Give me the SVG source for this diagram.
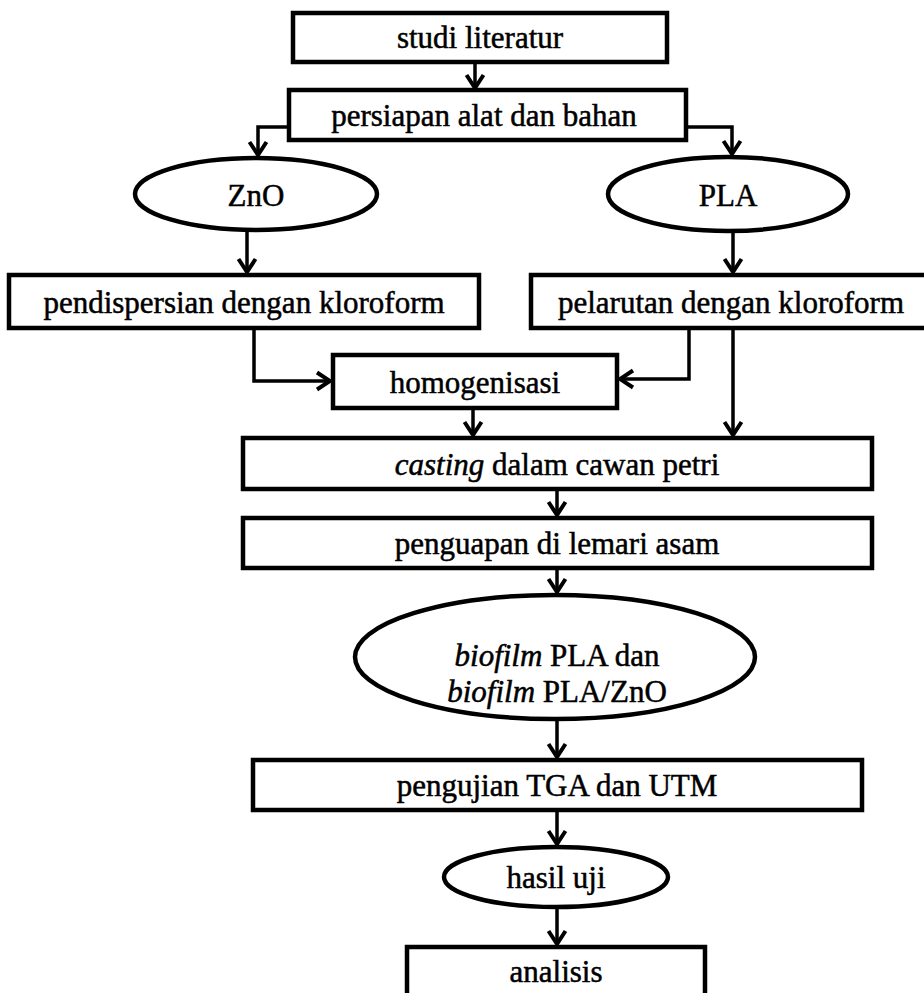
<svg xmlns="http://www.w3.org/2000/svg" width="924" height="993" viewBox="0 0 924 993">
<style>
.box{fill:#fff;stroke:#000;stroke-width:4.5}
.ell{fill:#fff;stroke:#000;stroke-width:4.5}
.lbl{font-family:"Liberation Serif","Times New Roman",serif;font-size:31px;fill:#000;stroke:#000;stroke-width:0.5;text-anchor:middle}
.it{font-style:italic}
.con{fill:none;stroke:#000;stroke-width:3.5;marker-end:url(#arr)}
</style>
<defs>
<marker id="arr" viewBox="-16 -11 18 22" markerWidth="18" markerHeight="22" refX="0" refY="0" orient="auto" markerUnits="userSpaceOnUse">
<path d="M-13,-8.5 L0,0 L-13,8.5" fill="none" stroke="#000" stroke-width="4"/>
</marker>
</defs>
<rect width="924" height="993" fill="#fff"/>
<g id="connectors">
<path class="con" d="M475,62 V88"/>
<path class="con" d="M289,127 H258 V155"/>
<path class="con" d="M686,127 H732 V154"/>
<path class="con" d="M247,230 V272"/>
<path class="con" d="M733,231 V272"/>
<path class="con" d="M254,328 V381 H330"/>
<path class="con" d="M689,328 V379 H620"/>
<path class="con" d="M733,328 V435"/>
<path class="con" d="M473,408 V435"/>
<path class="con" d="M557,489 V515"/>
<path class="con" d="M557,568 V592"/>
<path class="con" d="M557,719 V757"/>
<path class="con" d="M557,810 V844"/>
<path class="con" d="M557,907 V944"/>
</g>
<g id="studi">
<rect class="box" x="293" y="13" width="374" height="49"/>
<text class="lbl" x="480" y="48">studi literatur</text>
</g>
<g id="persiapan">
<rect class="box" x="289" y="90" width="397" height="50"/>
<text class="lbl" x="484" y="126">persiapan alat dan bahan</text>
</g>
<g id="zno">
<ellipse class="ell" cx="256" cy="194" rx="121" ry="36"/>
<text class="lbl" x="256" y="206">ZnO</text>
</g>
<g id="pla">
<ellipse class="ell" cx="728" cy="194" rx="120" ry="37"/>
<text class="lbl" x="728" y="206">PLA</text>
</g>
<g id="pendispersian">
<rect class="box" x="9" y="275" width="470" height="53"/>
<text class="lbl" x="244" y="313">pendispersian dengan kloroform</text>
</g>
<g id="pelarutan">
<rect class="box" x="531" y="275" width="396" height="53"/>
<text class="lbl" x="731" y="313">pelarutan dengan kloroform</text>
</g>
<g id="homogenisasi">
<rect class="box" x="333" y="355" width="284" height="53"/>
<text class="lbl" x="475" y="393">homogenisasi</text>
</g>
<g id="casting">
<rect class="box" x="243" y="438" width="629" height="51"/>
<text class="lbl" x="557" y="475"><tspan class="it">casting</tspan> dalam cawan petri</text>
</g>
<g id="penguapan">
<rect class="box" x="243" y="518" width="629" height="50"/>
<text class="lbl" x="557" y="554">penguapan di lemari asam</text>
</g>
<g id="biofilm">
<ellipse class="ell" cx="555" cy="657" rx="200" ry="62"/>
<text class="lbl" x="557" y="666"><tspan class="it">biofilm</tspan> PLA dan</text>
<text class="lbl" x="557" y="702"><tspan class="it">biofilm</tspan> PLA/ZnO</text>
</g>
<g id="pengujian">
<rect class="box" x="253" y="760" width="609" height="50"/>
<text class="lbl" x="557" y="796">pengujian TGA dan UTM</text>
</g>
<g id="hasil">
<ellipse class="ell" cx="556" cy="877" rx="112" ry="30"/>
<text class="lbl" x="556" y="888">hasil uji</text>
</g>
<g id="analisis">
<rect class="box" x="407" y="947" width="298" height="60"/>
<text class="lbl" x="556" y="982">analisis</text>
</g>
</svg>
